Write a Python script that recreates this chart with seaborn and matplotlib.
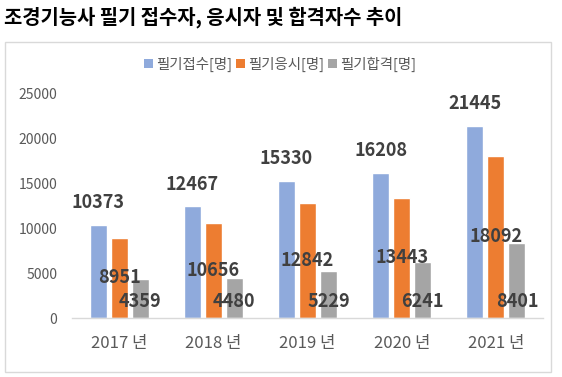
import numpy as np
import pandas as pd
import seaborn as sns
import matplotlib.pyplot as plt
from matplotlib.patches import Rectangle, Patch

# data
years = ['2017 년', '2018 년', '2019 년', '2020 년', '2021 년']
series = ['필기접수[명]', '필기응시[명]', '필기합격[명]']
applied = [10373, 12467, 15330, 16208, 21445]
taken = [8951, 10656, 12842, 13443, 18092]
passed = [4359, 4480, 5229, 6241, 8401]
yticks = [0, 5000, 10000, 15000, 20000, 25000]
colors = ['#8FAADC', '#ED7D31', '#A5A5A5']

df = pd.DataFrame({'year': years * 3,
                   'series': np.repeat(series, len(years)),
                   'count': applied + taken + passed})

sns.set_style('white')
plt.rcParams['font.family'] = ['Noto Sans CJK KR', 'DejaVu Sans']

fig = plt.figure(figsize=(5.62, 3.77), dpi=100)
ax = fig.add_axes([72 / 562, 1 - 318 / 377, 471 / 562, 224 / 377])

sns.barplot(data=df, x='year', y='count', hue='series', palette=colors,
            saturation=1, width=0.67, gap=0.19, legend=False, ax=ax)

ax.set_xlim(-0.5, 4.5)
ax.set_ylim(0, 25000)
ax.set_yticks(yticks)
ax.set_yticklabels([str(t) for t in yticks])
ax.set_xlabel('')
ax.set_ylabel('')
ax.tick_params(axis='y', length=0, pad=10.5, labelsize=10, labelcolor='#595959')
ax.tick_params(axis='x', length=0, pad=12.5, labelsize=12, labelcolor='#595959')
for s in ['top', 'right', 'left']:
    ax.spines[s].set_visible(False)
ax.spines['bottom'].set_color('#D9D9D9')
ax.spines['bottom'].set_linewidth(1)

# data labels: outside end / center / inside base
lab = dict(ha='center', va='center', fontsize=13, fontweight='bold', color='#404040',
           textcoords='offset points', annotation_clip=False)
for i, cont in enumerate(ax.containers):
    for bar in cont:
        x = bar.get_x() + bar.get_width() / 2
        h = bar.get_height()
        if i == 0:
            ax.annotate(f'{int(h)}', (x, h), xytext=(0, 16), **lab)
        elif i == 1:
            ax.annotate(f'{int(h)}', (x, h / 2), xytext=(0, 0), **lab)
        else:
            ax.annotate(f'{int(h)}', (x, 0), xytext=(0, 12.2), **lab)

# chart frame and title
fig.patches.append(Rectangle((5 / 562, 5 / 377), 546 / 562, 330 / 377, transform=fig.transFigure,
                             fill=False, edgecolor='#D9D9D9', linewidth=1))
fig.text(4 / 562, 1 - 17 / 377, '조경기능사 필기 접수자, 응시자 및 합격자수 추이',
         ha='left', va='center', fontsize=14.3, fontweight='bold', color='black')

handles = [Patch(facecolor=c, edgecolor='none') for c in colors]
fig.legend(handles, series, loc='center', bbox_to_anchor=(280 / 562, 1 - 64 / 377),
           ncol=3, frameon=False, handlelength=0.6, handleheight=0.6,
           handletextpad=0.2, columnspacing=0.3, fontsize=10.4, labelcolor='#595959')

fig.savefig('out.png', dpi=100)
